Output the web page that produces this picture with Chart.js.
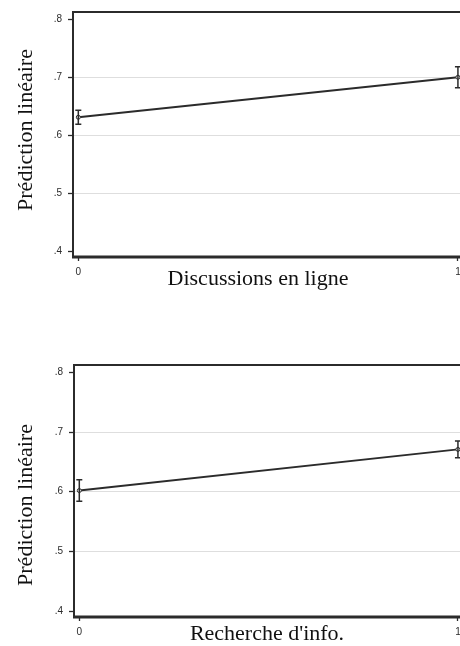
<!DOCTYPE html>
<html>
<head>
<meta charset="utf-8">
<script src="https://cdn.jsdelivr.net/npm/chart.js@4.4.1/dist/chart.umd.min.js"></script>
<style>
  html, body { margin: 0; padding: 0; background: #fff; }
  body { width: 460px; height: 646px; overflow: hidden; position: relative; }
  canvas { position: absolute; left: 0; }
  .ttl { position: absolute; font-family: "Liberation Serif", "Times New Roman", serif; font-size: 22px;
         line-height: 1; color: #111; white-space: nowrap; transform: translate(-50%, -50%); }
  .rot { transform: translate(-50%, -50%) rotate(-90deg); }
</style>
</head>
<body>
<canvas id="chartTop" width="470" height="300" style="top:0px"></canvas>
<canvas id="chartBottom" width="470" height="320" style="top:340px"></canvas>

<div class="ttl rot" style="left:25px; top:130px">Prédiction linéaire</div>
<div class="ttl" style="left:258px; top:278px">Discussions en ligne</div>
<div class="ttl rot" style="left:25px; top:505px">Prédiction linéaire</div>
<div class="ttl" style="left:267px; top:633px">Recherche d'info.</div>

<script>
// ============================
// Data
// ============================
const xCats = [0, 1];
const xTicks = [0, 1];
const yTicks = [0.4, 0.5, 0.6, 0.7, 0.8];

// Discussions en ligne
const discMean = [0.631, 0.700];
const discLow = [0.619, 0.682];
const discHigh = [0.643, 0.718];

// Recherche d'info.
const rechMean = [0.602, 0.671];
const rechLow = [0.584, 0.657];
const rechHigh = [0.620, 0.685];

const ink = "#2b2b2b";
const tickFont = { family: "'Liberation Sans', Arial, sans-serif", size: 10 };

// ============================
// Plugins: frame + error bars
// ============================
const framePlugin = {
  id: "frame",
  afterDraw(chart) {
    const { ctx, chartArea: a } = chart;
    ctx.save();
    ctx.strokeStyle = ink;
    ctx.lineWidth = 2;
    ctx.beginPath();
    ctx.moveTo(a.left, a.bottom);
    ctx.lineTo(a.left, a.top);
    ctx.lineTo(a.right, a.top);
    ctx.lineTo(a.right, a.bottom);
    ctx.stroke();
    ctx.lineWidth = 3;
    ctx.beginPath();
    ctx.moveTo(a.left - 1, a.bottom);
    ctx.lineTo(a.right + 1, a.bottom);
    ctx.stroke();
    ctx.restore();
  }
};

const errorBarPlugin = {
  id: "errorBars",
  afterDatasetsDraw(chart) {
    const { ctx, scales } = chart;
    const opts = chart.options.plugins.errorBars;
    ctx.save();
    ctx.strokeStyle = ink;
    ctx.lineWidth = 1.5;
    xCats.forEach((xv, i) => {
      const px = scales.x.getPixelForValue(xv);
      const lo = scales.y.getPixelForValue(opts.low[i]);
      const hi = scales.y.getPixelForValue(opts.high[i]);
      ctx.beginPath();
      ctx.moveTo(px, lo);
      ctx.lineTo(px, hi);
      ctx.moveTo(px - 3, lo);
      ctx.lineTo(px + 3, lo);
      ctx.moveTo(px - 3, hi);
      ctx.lineTo(px + 3, hi);
      ctx.stroke();
    });
    ctx.restore();
  }
};

// ============================
// Build one panel
// ============================
function makeChart(id, mean, low, high, padTop, axisLeft) {
  return new Chart(document.getElementById(id), {
    type: "line",
    data: {
      datasets: [{
        data: xCats.map((x, i) => ({ x: x, y: mean[i] })),
        borderColor: ink,
        borderWidth: 1.9,
        pointRadius: 2,
        pointBackgroundColor: "#fff",
        pointBorderColor: ink,
        pointBorderWidth: 1,
        tension: 0
      }]
    },
    options: {
      responsive: false,
      animation: false,
      layout: { padding: { top: padTop, right: 6, left: 0, bottom: 0 } },
      plugins: {
        legend: { display: false },
        tooltip: { enabled: false },
        errorBars: { low: low, high: high }
      },
      scales: {
        x: {
          type: "linear",
          min: -0.014,
          max: 1.016,
          afterBuildTicks: (s) => { s.ticks = xTicks.map(v => ({ value: v })); },
          afterFit: (s) => { s.height = 43; },
          border: { display: false },
          grid: { drawOnChartArea: false, tickLength: 4, tickColor: ink, tickWidth: 1.3 },
          ticks: { font: tickFont, color: ink, padding: 5, maxRotation: 0,
                   callback: (v) => String(v) }
        },
        y: {
          min: 0.39,
          max: 0.8125,
          afterBuildTicks: (s) => { s.ticks = yTicks.map(v => ({ value: v })); },
          afterFit: (s) => { s.width = axisLeft; },
          border: { display: false },
          grid: {
            color: (c) => (c.tick && c.tick.value > 0.45 && c.tick.value < 0.75) ? "#dedede" : "rgba(0,0,0,0)",
            lineWidth: 1,
            tickLength: 5,
            tickColor: ink,
            tickWidth: 1.3
          },
          ticks: { font: tickFont, color: ink, padding: 6,
                   callback: (v) => "." + Math.round(v * 10) }
        }
      }
    },
    plugins: [framePlugin, errorBarPlugin]
  });
}

makeChart("chartTop", discMean, discLow, discHigh, 7, 73);
makeChart("chartBottom", rechMean, rechLow, rechHigh, 25, 74);
</script>
</body>
</html>
